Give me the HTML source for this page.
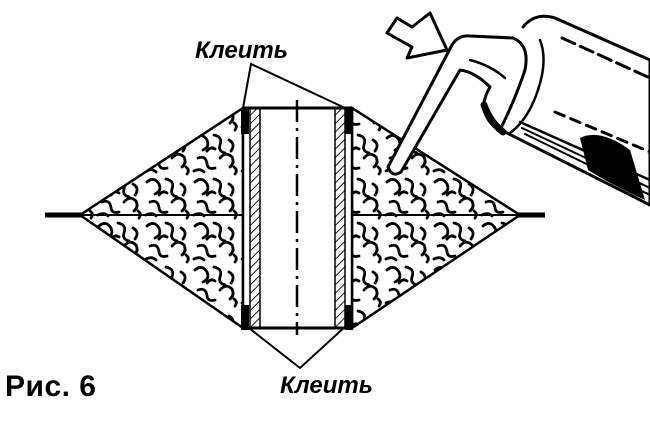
<!DOCTYPE html>
<html><head><style>
html,body{margin:0;padding:0;background:#fff;}
svg{display:block}
</style></head><body>
<svg width="650" height="428" viewBox="0 0 650 428" xmlns="http://www.w3.org/2000/svg">
<defs>
<pattern id="sq" width="48" height="44" patternUnits="userSpaceOnUse">
<g fill="none" stroke="#000" stroke-width="2.8" stroke-linecap="round">
<path d="M3 6 q7 -6 12 2 q3 7 -4 10"/>
<path d="M22 3 q9 2 6 10 q-2 6 5 8"/>
<path d="M37 8 q7 4 2 11"/>
<path d="M6 26 q8 -3 9 6 q1 6 8 4"/>
<path d="M28 26 q6 -7 12 -1 q3 6 -2 10"/>
<path d="M15 19 q4 -5 8 -2"/>
<path d="M42 35 q4 3 1 7"/>
<path d="M2 39 q6 -3 10 1"/>
</g>
</pattern>
<pattern id="hatch" width="6" height="6" patternUnits="userSpaceOnUse" patternTransform="rotate(45)">
<line x1="0" y1="0" x2="0" y2="6" stroke="#000" stroke-width="1.8"/>
</pattern>
</defs>
<polygon points="80,215 243,108 243,328" fill="url(#sq)" stroke="#000" stroke-width="2.5"/>
<polygon points="352,108 520,215 352,328" fill="url(#sq)" stroke="#000" stroke-width="2.5"/>
<line x1="45" y1="215" x2="545" y2="215" stroke="#000" stroke-width="2"/>
<line x1="45" y1="215" x2="82" y2="215" stroke="#000" stroke-width="5"/>
<line x1="518" y1="215" x2="545" y2="215" stroke="#000" stroke-width="5"/>
<rect x="243" y="108" width="109" height="220" fill="#fff" stroke="#000" stroke-width="2.5"/>
<rect x="250" y="108" width="10" height="220" fill="url(#hatch)" stroke="#000" stroke-width="1.5"/>
<rect x="335" y="108" width="10" height="220" fill="url(#hatch)" stroke="#000" stroke-width="1.5"/>
<line x1="243" y1="108" x2="352" y2="108" stroke="#000" stroke-width="3"/>
<line x1="243" y1="328" x2="352" y2="328" stroke="#000" stroke-width="3"/>
<rect x="241" y="108" width="8" height="26" fill="#000"/>
<rect x="345" y="108" width="8" height="26" fill="#000"/>
<rect x="241" y="305" width="8" height="25" fill="#000"/>
<rect x="345" y="305" width="8" height="25" fill="#000"/>
<line x1="297" y1="100" x2="297" y2="335" stroke="#000" stroke-width="2.5" stroke-dasharray="22,6,3,6"/>
<polyline points="243,108 251,64 345,108" fill="none" stroke="#000" stroke-width="2"/>
<polyline points="245,325 300,368 347,325" fill="none" stroke="#000" stroke-width="2"/>
<g fill="none" stroke="#000" stroke-linecap="round" stroke-linejoin="round">
<path d="M523 27 Q535 12 555 18 L650 60 L650 205 L507 133 Q490 125 483 107" fill="#fff" stroke-width="3"/>
<path d="M540 40 Q548 60 538 90 Q528 120 510 133" stroke-width="2.5"/>
<path d="M562 38 L650 78" stroke-width="3" stroke-dasharray="14,6"/>
<path d="M555 112 L650 152" stroke-width="3" stroke-dasharray="10,7"/>
<path d="M520 122 L650 180" stroke-width="2.5"/>
<path d="M522 128 L650 188" stroke-width="2"/>
<path d="M525 134 L650 195" stroke-width="2"/>
<path d="M388 167 L452 45 Q458 35 470 36 L513 38 Q530 45 525 70 Q515 100 500 130 Q488 125 483 107 Q485 95 490 87 Q475 72 460 70 L401 172 Q392 178 388 167 Z" fill="#fff" stroke-width="3"/>
<path d="M470 60 Q490 65 505 78" stroke-width="2.5"/>
<path d="M484 105 Q490 122 503 132" stroke-width="7"/>
<path d="M387 33 L397 18 L412 27 L430 13 L447 50 L407 58 L412 47 Z" fill="#fff" stroke-width="3"/>
</g>
<path d="M580 138 Q600 128 630 150 L645 200 Q612 185 588 170 Z" fill="#000"/>
<text x="195" y="58" font-family="Liberation Sans, sans-serif" font-style="italic" font-weight="bold" font-size="24" fill="#000">Клеить</text>
<text x="280" y="393" font-family="Liberation Sans, sans-serif" font-style="italic" font-weight="bold" font-size="24" fill="#000">Клеить</text>
<text x="5" y="396" font-family="Liberation Sans, sans-serif" font-weight="bold" font-size="30" letter-spacing="0.5" fill="#000">Рис. 6</text>
</svg>
</body></html>
